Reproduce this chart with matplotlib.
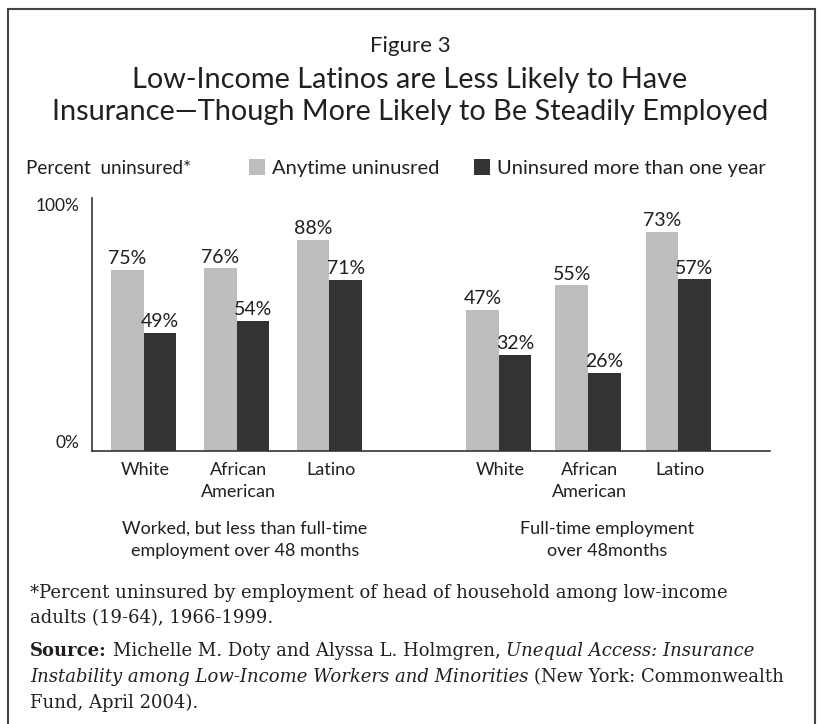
import numpy as np
import matplotlib
matplotlib.use('Agg')
import matplotlib.pyplot as plt
from matplotlib.patches import Rectangle

# Data (bar heights as drawn, labels as printed)
categories = ['White', 'African\nAmerican', 'Latino', 'White', 'African\nAmerican', 'Latino']
groups = ['Worked, but less than full-time\nemployment over 48 months', 'Full-time employment\nover 48months']
anytime_height = [71.5, 72.2, 83.5, 55.7, 65.5, 86.7]
oneyear_height = [46.7, 51.4, 67.5, 38.0, 31.0, 67.8]
anytime_labels = ['75%', '76%', '88%', '47%', '55%', '73%']
oneyear_labels = ['49%', '54%', '71%', '32%', '26%', '57%']
series_names = ['Anytime uninusred', 'Uninsured more than one year']

W, H = 819, 724
sans = 'Lato'
serif = 'DejaVu Serif'
ink = '#231f20'
light = '#bebebe'
dark = '#333333'

def px(x, y):  # pixel position -> figure fraction
    return x / W, 1 - y / H

fig = plt.figure(figsize=(W / 100, H / 100), dpi=100)

# frame around the whole figure (open at the bottom)
fig.patches.append(Rectangle(px(8, 760), 807 / W, 751 / H, transform=fig.transFigure,
                             fill=False, edgecolor='#444444', linewidth=1.5))

# titles
fig.text(*px(410, 46), 'Figure 3', ha='center', va='center', fontsize=16, family=sans, color=ink)
fig.text(*px(410, 80), 'Low-Income Latinos are Less Likely to Have', ha='center', va='center',
         fontsize=20.8, family=sans, color=ink)
fig.text(*px(410, 112), 'Insurance\u2014Though More Likely to Be Steadily Employed', ha='center', va='center',
         fontsize=20.8, family=sans, color=ink)
fig.text(*px(26, 168), 'Percent  uninsured*', ha='left', va='center', fontsize=13.6, family=sans, color=ink)

# plot area
left, right, top, base = 92, 770, 198, 451
ax = fig.add_axes([left / W, 1 - base / H, (right - left) / W, (base - top) / H])
pos = np.array([0, 1, 2, 3.82, 4.78, 5.75])  # bar group centres
bw = 0.35
b1 = ax.bar(pos - bw / 2, anytime_height, bw, color=light, label=series_names[0])
b2 = ax.bar(pos + bw / 2, oneyear_height, bw, color=dark, label=series_names[1])

for bars, labs in ((b1, anytime_labels), (b2, oneyear_labels)):
    for b, lab in zip(bars, labs):
        ax.annotate(lab, (b.get_x() + b.get_width() / 2, b.get_height()), xytext=(0, 2),
                    textcoords='offset points', ha='center', va='bottom',
                    fontsize=14, family=sans, color=ink)

ax.set_xlim(-0.554, 6.737)
ax.set_ylim(0, 100)
for s in ['top', 'right']:
    ax.spines[s].set_visible(False)
for s in ['left', 'bottom']:
    ax.spines[s].set_color('#333333')
    ax.spines[s].set_linewidth(1.2)

ax.set_yticks([0, 100])
ax.set_yticklabels(['0%', '100%'], fontsize=12.5, family=sans, color=ink)
ylabs = ax.get_yticklabels()
ylabs[0].set_va('bottom')
ylabs[1].set_va('top')
ax.tick_params(axis='y', length=0, pad=9)

ax.set_xticks(pos + 0.02)
ax.set_xticklabels(categories, fontsize=13, family=sans, color=ink)
for lbl in ax.get_xticklabels():
    lbl.set_linespacing(1.45)
ax.tick_params(axis='x', length=0, pad=8)

# group captions
fig.text(*px(245, 540), groups[0], ha='center', va='center', fontsize=13, family=sans,
         color=ink, linespacing=1.45)
fig.text(*px(607, 540), groups[1], ha='center', va='center', fontsize=13, family=sans,
         color=ink, linespacing=1.45)

# legend across the top
fig.legend(handles=[b1, b2], loc='center left', bbox_to_anchor=px(249, 168), ncol=2, frameon=False,
           prop={'family': sans, 'size': 14.5}, handlelength=0.8, handleheight=0.8,
           handletextpad=0.35, columnspacing=1.7, borderpad=0, borderaxespad=0, labelcolor=ink)

# footnotes with mixed styles
fig.canvas.draw()
renderer = fig.canvas.get_renderer()

def write_line(x, y, runs, size=13.0):
    # place text runs one after another on a line
    for txt, style in runs:
        weight = 'bold' if style == 'b' else 'normal'
        slant = 'italic' if style == 'i' else 'normal'
        t = fig.text(*px(x, y), txt, ha='left', va='center', fontsize=size, family=serif,
                     weight=weight, style=slant, color=ink)
        x += t.get_window_extent(renderer).width
        sp = fig.text(0, 0, 'a a', fontsize=size, family=serif)
        no = fig.text(0, 0, 'aa', fontsize=size, family=serif)
        gap = sp.get_window_extent(renderer).width - no.get_window_extent(renderer).width
        sp.remove()
        no.remove()
        x += gap

write_line(30, 593, [('*Percent uninsured by employment of head of household among low-income', 'n')])
write_line(30, 618, [('adults (19-64), 1966-1999.', 'n')])
write_line(30, 651, [('Source:', 'b'), ('Michelle M. Doty and Alyssa L. Holmgren,', 'n'),
                     ('Unequal Access: Insurance', 'i')])
write_line(30, 677, [('Instability among Low-Income Workers and Minorities', 'i'),
                     ('(New York: Commonwealth', 'n')])
write_line(30, 703, [('Fund, April 2004).', 'n')])

fig.savefig('out.png', dpi=100)
